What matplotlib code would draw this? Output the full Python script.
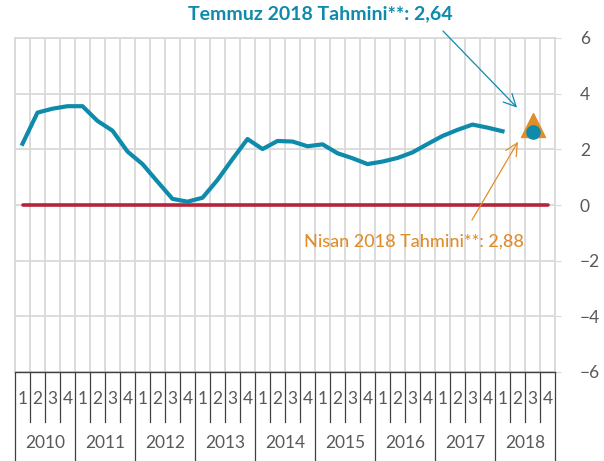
import numpy as np
import matplotlib
matplotlib.use("Agg")
import matplotlib.pyplot as plt
import matplotlib.transforms as mtransforms

plt.rcParams['font.family'] = ['Lato', 'DejaVu Sans']

years = ['2010', '2011', '2012', '2013', '2014', '2015', '2016', '2017', '2018']
quarters = ['1', '2', '3', '4']

# quarterly series, 2010Q1 .. 2018Q1
values = [2.20, 3.32, 3.46, 3.55, 3.55, 3.02, 2.67, 1.92,
          1.47, 0.84, 0.22, 0.12, 0.26, 0.90, 1.65, 2.37,
          2.01, 2.30, 2.28, 2.11, 2.18, 1.86, 1.68, 1.47,
          1.56, 1.69, 1.89, 2.19, 2.48, 2.70, 2.89, 2.78,
          2.65]
zero_line = [0.0] * 36
forecast_idx = 34            # 2018Q3
nisan_forecast = 2.88
temmuz_forecast = 2.64

blue = '#0E8AAB'
orange = '#E08E2B'
red = '#B5243A'
grid = '#D9D9D9'
txt = '#595959'

fig = plt.figure(figsize=(6.04, 4.61), dpi=100)
ax = fig.add_axes([15/604, 1-372/461, 540/604, 334/461])

n = len(years) * len(quarters)
x = np.arange(n)

ax.plot(x, zero_line, color=red, lw=2.6, solid_capstyle='round', zorder=3)
ax.plot(x[:len(values)], values, color=blue, lw=3.0, zorder=4)
ax.plot(forecast_idx, nisan_forecast, marker='^', ms=17, color=orange, ls='none', zorder=5)
ax.plot(forecast_idx, temmuz_forecast, marker='o', ms=9.5, color=blue, ls='none', zorder=6)

ax.set_xlim(-0.5, n - 0.5)
ax.set_ylim(-6, 6)
ax.set_yticks(np.arange(-6, 7, 2))
ax.yaxis.tick_right()
ax.tick_params(axis='y', length=4, colors=txt, labelsize=12.5, pad=14)
ax.tick_params(axis='y', color=grid)
ax.set_xticks([])
ax.grid(axis='y', color=grid, lw=1.3)
for b in np.arange(-0.5, n, 1):
    ax.axvline(b, color=grid, lw=1.3, zorder=1)
for s in ['left', 'right', 'top']:
    ax.spines[s].set_color(grid)
    ax.spines[s].set_linewidth(1.3)
ax.spines['bottom'].set_color('#404040')
ax.spines['bottom'].set_linewidth(1.0)

# category table under the axis
trans = mtransforms.blended_transform_factory(ax.transData, ax.transAxes)
for i in range(n):
    ax.text(i, -0.081, quarters[i % 4], transform=trans, ha='center', va='center',
            fontsize=12.5, color=txt)
for i in range(n + 1):
    low = -0.28 if i % 4 == 0 else -0.15
    ax.plot([i - 0.5, i - 0.5], [0, low], transform=trans, color='#404040',
            lw=0.9, clip_on=False)
for k, yr in enumerate(years):
    ax.text(4 * k + 1.5, -0.213, yr, transform=trans, ha='center', va='center',
            fontsize=12.5, color=txt)

# forecast labels and their arrows
fig.text(320/604, 1-14/461, 'Temmuz 2018 Tahmini**: 2,64', ha='center', va='center',
         fontsize=14, fontweight='bold', color=blue)
fig.text(414/604, 1-242/461, 'Nisan 2018 Tahmini**: 2,88', ha='center', va='center',
         fontsize=13, fontweight='medium', color=orange)
ax.annotate('', xy=(forecast_idx - 1.03, 3.50), xytext=(443, 461-31),
            textcoords='figure pixels',
            arrowprops=dict(arrowstyle='->', color=blue, lw=0.9,
                            mutation_scale=22, shrinkA=0, shrinkB=0))
ax.annotate('', xy=(forecast_idx - 0.97, 2.27), xytext=(472, 461-220),
            textcoords='figure pixels',
            arrowprops=dict(arrowstyle='->', color=orange, lw=0.9,
                            mutation_scale=22, shrinkA=0, shrinkB=0))

fig.savefig('out.png', dpi=100)
